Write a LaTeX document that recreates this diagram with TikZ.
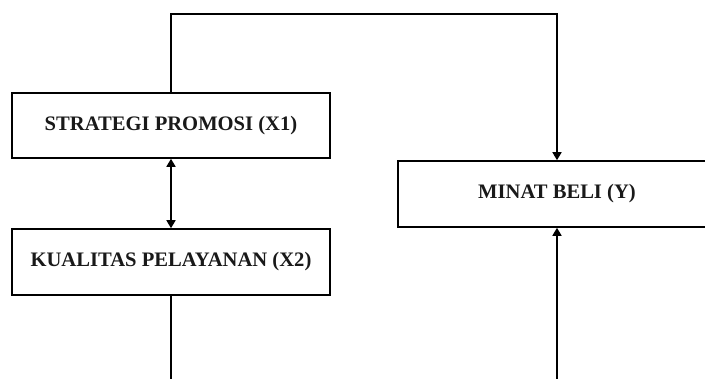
\documentclass[tikz,border=0pt]{standalone}
\usepackage{fontspec}
\setmainfont{Liberation Serif}
\usetikzlibrary{arrows.meta}
\begin{document}
\begin{tikzpicture}[x=1pt,y=-1pt,
  varbox/.style={draw=black, line width=1.6pt, fill=white, minimum width=318pt, inner sep=0pt,
    font=\fontsize{20.6}{23}\selectfont\bfseries, text=black!90},
  conn/.style={draw=black, line width=1.6pt},
  tip/.style={-{Triangle[length=8pt,width=9pt]}}]
\useasboundingbox (0,0) rectangle (705,379);
\clip (0,0) rectangle (705,379);
\fill[white] (0,0) rectangle (705,379);
\node[varbox, minimum height=65pt] (x1) at (171,125.5) {STRATEGI PROMOSI (X1)};
\node[varbox, minimum height=66pt] (x2) at (171,262) {KUALITAS PELAYANAN (X2)};
\node[varbox, minimum height=66pt] (y) at (557,194) {MINAT BELI (Y)};
\coordinate (top) at (171,14);
\coordinate (b1) at (171,390);
\coordinate (b2) at (557,390);
\draw[conn, tip] (x1.north) -- (top) -| (y.north);
\draw[conn, {Triangle[length=8pt,width=9pt]}-{Triangle[length=8pt,width=9pt]}] (x1.south) -- (x2.north);
\draw[conn] (x2.south) -- (b1);
\draw[conn, tip] (b2) -- (y.south);
\end{tikzpicture}
\end{document}
